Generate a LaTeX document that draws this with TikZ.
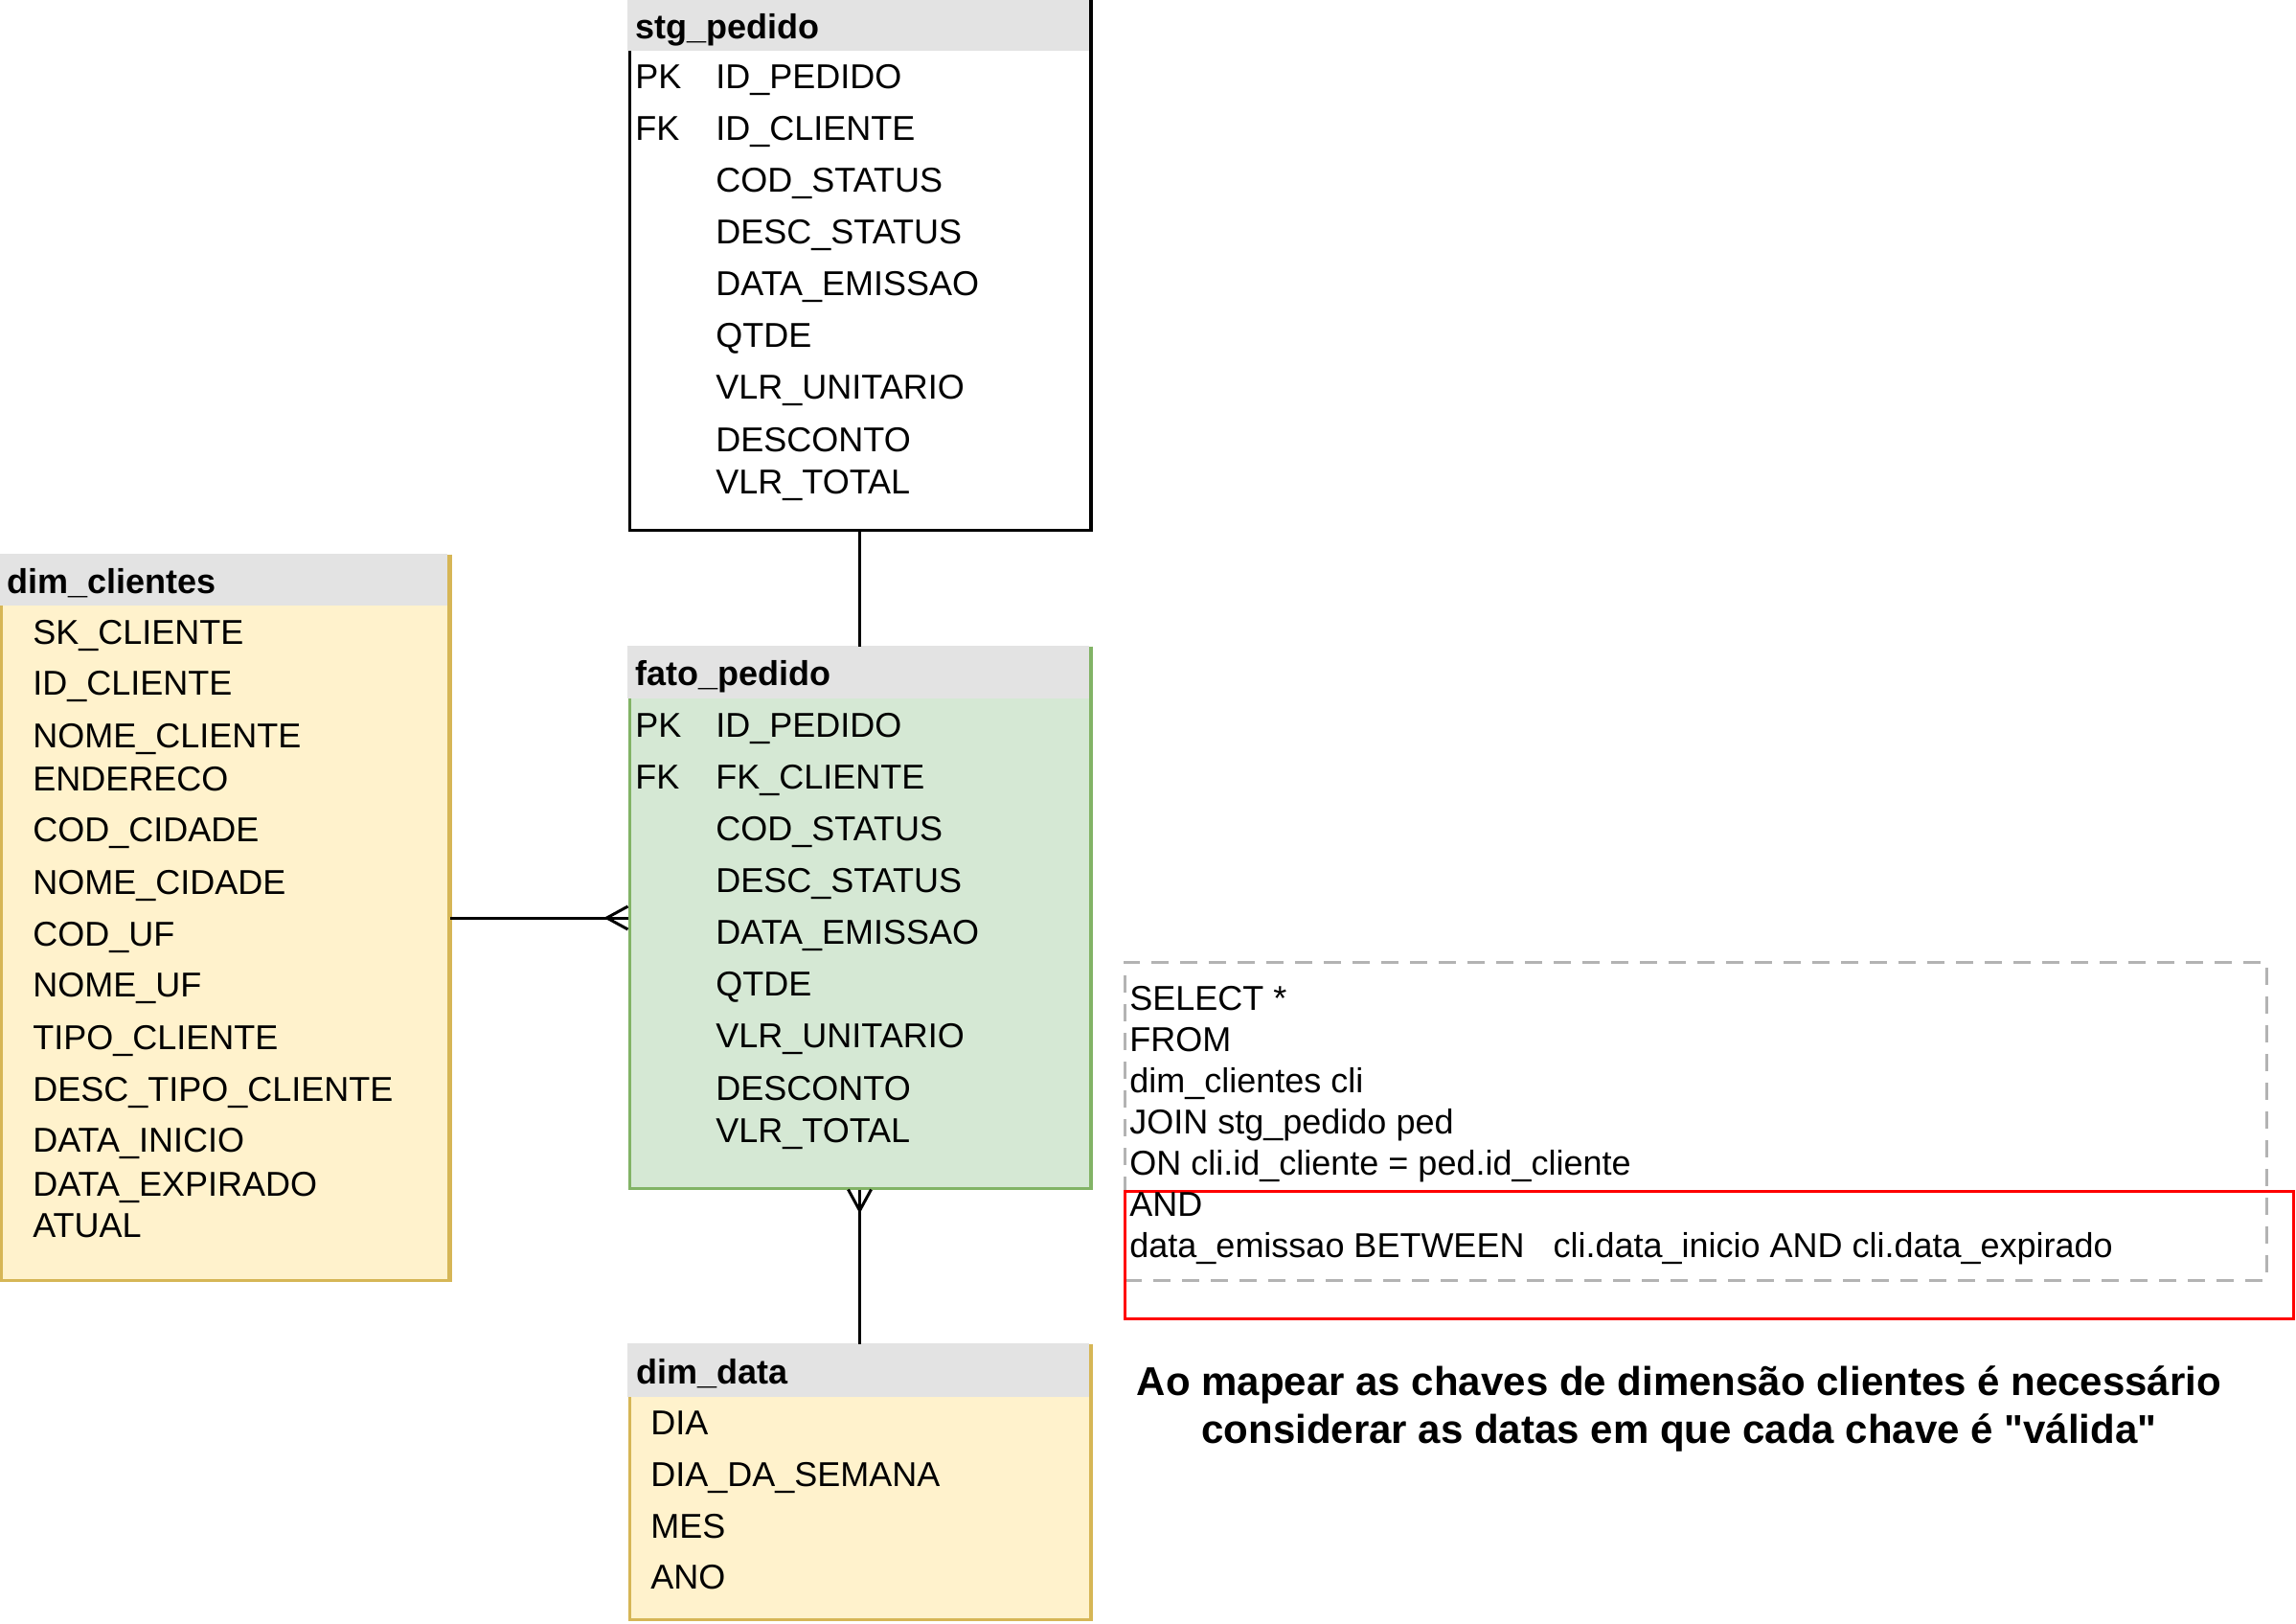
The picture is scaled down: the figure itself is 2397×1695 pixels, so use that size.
\documentclass[tikz,border=0pt]{standalone}
\usepackage{fontspec}
\setmainfont{Liberation Sans}
\newfontfamily\capfam{Liberation Sans}[Ligatures=TeXOff]
\usetikzlibrary{fit,calc}
\definecolor{hdrgray}{HTML}{E3E3E3}
\definecolor{yelfill}{HTML}{FFF2CC}
\definecolor{yelline}{HTML}{D6B656}
\definecolor{grnfill}{HTML}{D5E8D4}
\definecolor{grnline}{HTML}{82B366}
\definecolor{dashgray}{HTML}{B3B3B3}
\newcommand\fldfont{\fontsize{18pt}{21.6pt}\selectfont}
\newcommand\ttlfont{\fontsize{18pt}{21.6pt}\selectfont\bfseries}
\newcommand\capfont{\capfam\fontsize{21pt}{25pt}\selectfont\bfseries}
\tikzset{
  tbl/.style={inner sep=0pt, line width=1.5pt},
  hdr/.style={inner sep=0pt, fill=hdrgray, draw=none},
  fld/.style={anchor=base west, inner sep=0pt, font=\fldfont},
  ttl/.style={anchor=base west, inner sep=0pt, font=\ttlfont},
  capt/.style={anchor=base, inner sep=0pt, font=\capfont},
  conn/.style={line width=1.5pt, draw=black},
}
\begin{document}
\begin{tikzpicture}[x=0.5pt,y=-0.5pt]
\useasboundingbox (0,0) rectangle (2397,1695);

% ---------- stg_pedido ----------
\node[tbl, draw=black, fill=white, fit={(657,0)(1138,553)}] (stg) {};
\node[hdr, fit={(655,-2)(1136.5,53)}] (stgh) {};
\draw[line width=1.5pt] (stg.north east) -- (stg.south east);
\node[ttl] (stgt) at (663,41) {stg\_pedido};
\node[fld] (stgpk) at (663,93) {PK};
\node[fld] (stgfk) at (663,147) {FK};
\foreach \yy/\tt [count=\i] in {93/ID\_PEDIDO,147/ID\_CLIENTE,201/COD\_STATUS,255/DESC\_STATUS,309/DATA\_EMISSAO,363/QTDE,417/VLR\_UNITARIO,472/DESCONTO,516/VLR\_TOTAL}
  \node[fld] (s\i) at (747,\yy) {\tt};

% ---------- fato_pedido ----------
\node[tbl, draw=grnline, fill=grnfill, fit={(657,676)(1138,1240)}] (fato) {};
\node[hdr, fit={(655,674)(1136.5,729)}] (fatoh) {};
\draw[line width=1.5pt, grnline] (fato.north east) -- (fato.south east);
\node[ttl] (fatot) at (663,715) {fato\_pedido};
\node[fld] (fatopk) at (663,769) {PK};
\node[fld] (fatofk) at (663,823) {FK};
\foreach \yy/\tt [count=\i] in {769/ID\_PEDIDO,823/FK\_CLIENTE,877/COD\_STATUS,931/DESC\_STATUS,985/DATA\_EMISSAO,1039/QTDE,1093/VLR\_UNITARIO,1148/DESCONTO,1192/VLR\_TOTAL}
  \node[fld] (f\i) at (747,\yy) {\tt};

% ---------- dim_clientes ----------
\node[tbl, draw=yelline, fill=yelfill, fit={(1.5,580)(468.5,1336)}] (dimc) {};
\node[hdr, fit={(-1,578)(467,632)}] (dimch) {};
\draw[line width=1.5pt, yelline] (dimc.north east) -- (dimc.south east);
\node[ttl] (dimct) at (7,619) {dim\_clientes};
\foreach \yy/\tt [count=\i] in {672/SK\_CLIENTE,725/ID\_CLIENTE,780/NOME\_CLIENTE,825/ENDERECO,878/COD\_CIDADE,933/NOME\_CIDADE,987/COD\_UF,1040/NOME\_UF,1095/TIPO\_CLIENTE,1149/DESC\_TIPO\_CLIENTE,1202/DATA\_INICIO,1248/DATA\_EXPIRADO,1291/ATUAL}
  \node[fld] (c\i) at (34,\yy) {\tt};

% ---------- dim_data ----------
\node[tbl, draw=yelline, fill=yelfill, fit={(657,1404)(1138,1690)}] (dimd) {};
\node[hdr, fit={(655,1402)(1136.5,1458)}] (dimdh) {};
\draw[line width=1.5pt, yelline] (dimd.north east) -- (dimd.south east);
\node[ttl] (dimdt) at (664,1444) {dim\_data};
\foreach \yy/\tt [count=\i] in {1497/DIA,1551/DIA\_DA\_SEMANA,1605/MES,1658/ANO}
  \node[fld] (d\i) at (679,\yy) {\tt};

% ---------- connectors ----------
\draw[conn] (stg.south) -- (fato.north);
\draw[conn] (dimc.east) -- (dimc.east -| fato.west);
\coordinate (cfl) at ($(dimc.east -| fato.west)+(-22,0)$);
\draw[conn] ($(dimc.east -| fato.west)+(0,-12)$) -- (cfl) -- ($(dimc.east -| fato.west)+(0,12)$);
\draw[conn] (fato.south) -- (dimd.north);
\coordinate (cfb) at ($(fato.south)+(0,22)$);
\draw[conn] ($(fato.south)+(-12,0)$) -- (cfb) -- ($(fato.south)+(12,0)$);

% ---------- SQL box ----------
\node[inner sep=0pt, draw=dashgray, line width=1.5pt, dash pattern=on 9 off 6, fit={(1174,1004)(2366,1336)}] (sqlbox) {};
\node[inner sep=0pt, draw=red, line width=1.5pt, fit={(1174,1243)(2394,1376)}] (redbox) {};
\foreach \yy/\tt [count=\i] in {1054/SELECT *,1097/FROM,1140/dim\_clientes cli,1183/JOIN stg\_pedido ped,1226/ON cli.id\_cliente = ped.id\_cliente,1269/AND,1312/data\_emissao BETWEEN~~~cli.data\_inicio AND cli.data\_expirado}
  \node[fld] (q\i) at (1179,\yy) {\tt};

% ---------- caption ----------
\node[capt] (cap1) at (1753,1456) {Ao mapear as chaves de dimensão clientes é necessário};
\node[capt] (cap2) at (1753,1506) {considerar as datas em que cada chave é "válida"};
\end{tikzpicture}
\end{document}
